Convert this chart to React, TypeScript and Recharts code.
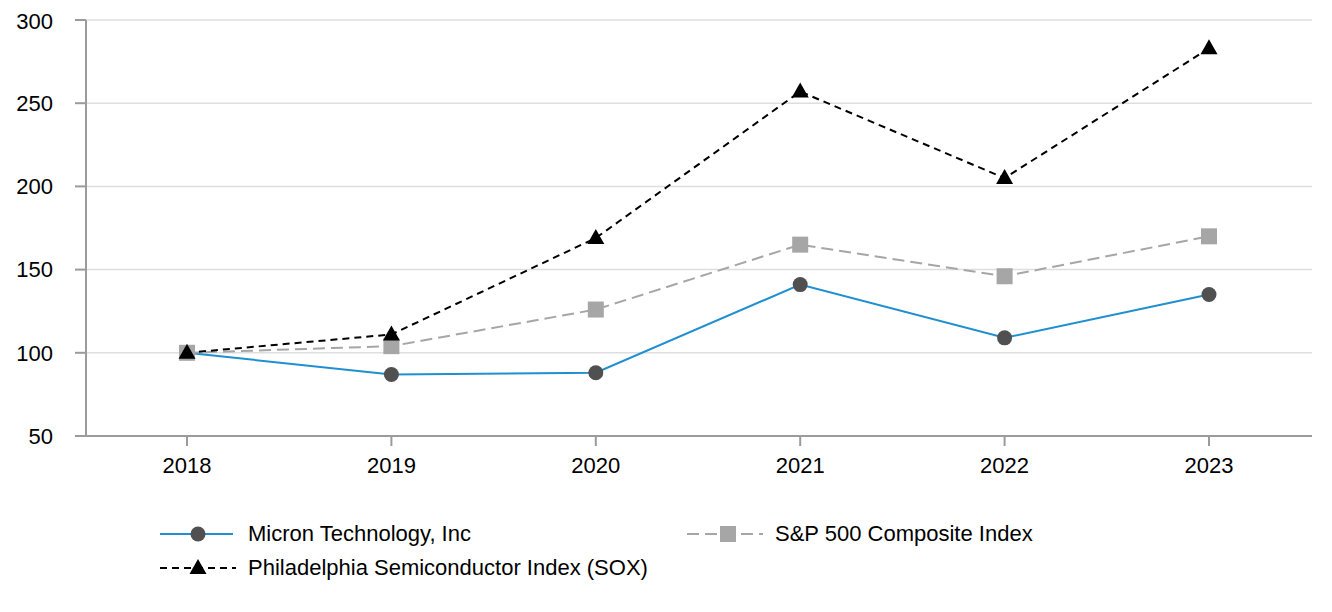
import React from 'react';
import { LineChart, Line, XAxis, YAxis, CartesianGrid } from 'recharts';

const years = ['2018', '2019', '2020', '2021', '2022', '2023'];
const micron = [100, 87, 88, 141, 109, 135];
const sp500 = [100, 104, 126, 165, 146, 170];
const sox = [100, 111, 169, 257, 205, 283];
const yTicks = [50, 100, 150, 200, 250, 300];

const BLUE = '#1f8fd0';
const GREY = '#a6a6a6';
const DARK = '#505050';
const AXIS = '#9b9b9b';
const FONT = '"Liberation Sans", Arial, sans-serif';

const data = years.map((year, i) => ({
  year,
  micron: micron[i],
  sp500: sp500[i],
  sox: sox[i],
}));

const SquareDot = (props: any) => {
  const { cx, cy, index } = props;
  return <rect key={`sq-${index}`} x={cx - 8} y={cy - 8} width={16} height={16} fill={GREY} />;
};

const TriangleDot = (props: any) => {
  const { cx, cy, index } = props;
  return (
    <polygon
      key={`tri-${index}`}
      points={`${cx},${cy - 9} ${cx + 8.5},${cy + 6} ${cx - 8.5},${cy + 6}`}
      fill="#000"
    />
  );
};

// legend swatch: a line with the series marker in the middle
const Swatch = ({ kind }: { kind: 'micron' | 'sp500' | 'sox' }) => (
  <svg width={76} height={20} style={{ display: 'block' }}>
    {kind === 'micron' && (
      <>
        <line x1={0} y1={10} x2={73} y2={10} stroke={BLUE} strokeWidth={2} />
        <circle cx={38} cy={10} r={7.5} fill={DARK} />
      </>
    )}
    {kind === 'sp500' && (
      <>
        <line x1={0} y1={10} x2={76} y2={10} stroke={GREY} strokeWidth={2} strokeDasharray="12 6" />
        <rect x={33} y={2} width={16} height={16} fill={GREY} />
      </>
    )}
    {kind === 'sox' && (
      <>
        <line x1={0} y1={10} x2={76} y2={10} stroke="#000" strokeWidth={2} strokeDasharray="7 5" />
        <polygon points="38,1 46.5,16 29.5,16" fill="#000" />
      </>
    )}
  </svg>
);

const LegendItem = ({ kind, label }: { kind: 'micron' | 'sp500' | 'sox'; label: string }) => (
  <div style={{ display: 'flex', alignItems: 'center', height: 34 }}>
    <Swatch kind={kind} />
    <span style={{ marginLeft: 12, fontSize: 22, color: '#000', whiteSpace: 'nowrap' }}>{label}</span>
  </div>
);

const App: React.FC = () => {
  return (
    <div style={{ position: 'relative', width: 1316, height: 596, fontFamily: FONT, background: '#fff' }}>
      <LineChart width={1316} height={480} data={data} margin={{ top: 12, right: 12, bottom: 0, left: 0 }}>
        <CartesianGrid vertical={false} stroke="#dedede" strokeWidth={1.5} />
        <XAxis
          dataKey="year"
          padding={{ left: 101, right: 103 }}
          axisLine={{ stroke: AXIS, strokeWidth: 2 }}
          tickLine={{ stroke: AXIS, strokeWidth: 2 }}
          tickSize={10}
          tickMargin={11}
          height={52}
          tick={{ fill: '#000', fontSize: 22, fontFamily: FONT }}
        />
        <YAxis
          domain={[50, 300]}
          ticks={yTicks}
          width={78}
          axisLine={{ stroke: AXIS, strokeWidth: 2 }}
          tickLine={{ stroke: AXIS, strokeWidth: 2 }}
          tickSize={11}
          tickMargin={22}
          tick={{ fill: '#000', fontSize: 22, fontFamily: FONT }}
        />
        <Line
          dataKey="micron"
          stroke={BLUE}
          strokeWidth={2}
          dot={{ r: 7.5, fill: DARK, stroke: 'none' }}
          activeDot={false}
          isAnimationActive={false}
        />
        <Line
          dataKey="sp500"
          stroke={GREY}
          strokeWidth={2}
          strokeDasharray="12 6"
          dot={SquareDot}
          activeDot={false}
          isAnimationActive={false}
        />
        <Line
          dataKey="sox"
          stroke="#000"
          strokeWidth={2}
          strokeDasharray="7 5"
          dot={TriangleDot}
          activeDot={false}
          isAnimationActive={false}
        />
      </LineChart>

      {/* Legend */}
      <div style={{ position: 'absolute', left: 152, top: 509, display: 'grid', gridTemplateColumns: '527px auto' }}>
        <LegendItem kind="micron" label="Micron Technology, Inc" />
        <LegendItem kind="sp500" label="S&P 500 Composite Index" />
        <LegendItem kind="sox" label="Philadelphia Semiconductor Index (SOX)" />
      </div>
    </div>
  );
};

export default App;
